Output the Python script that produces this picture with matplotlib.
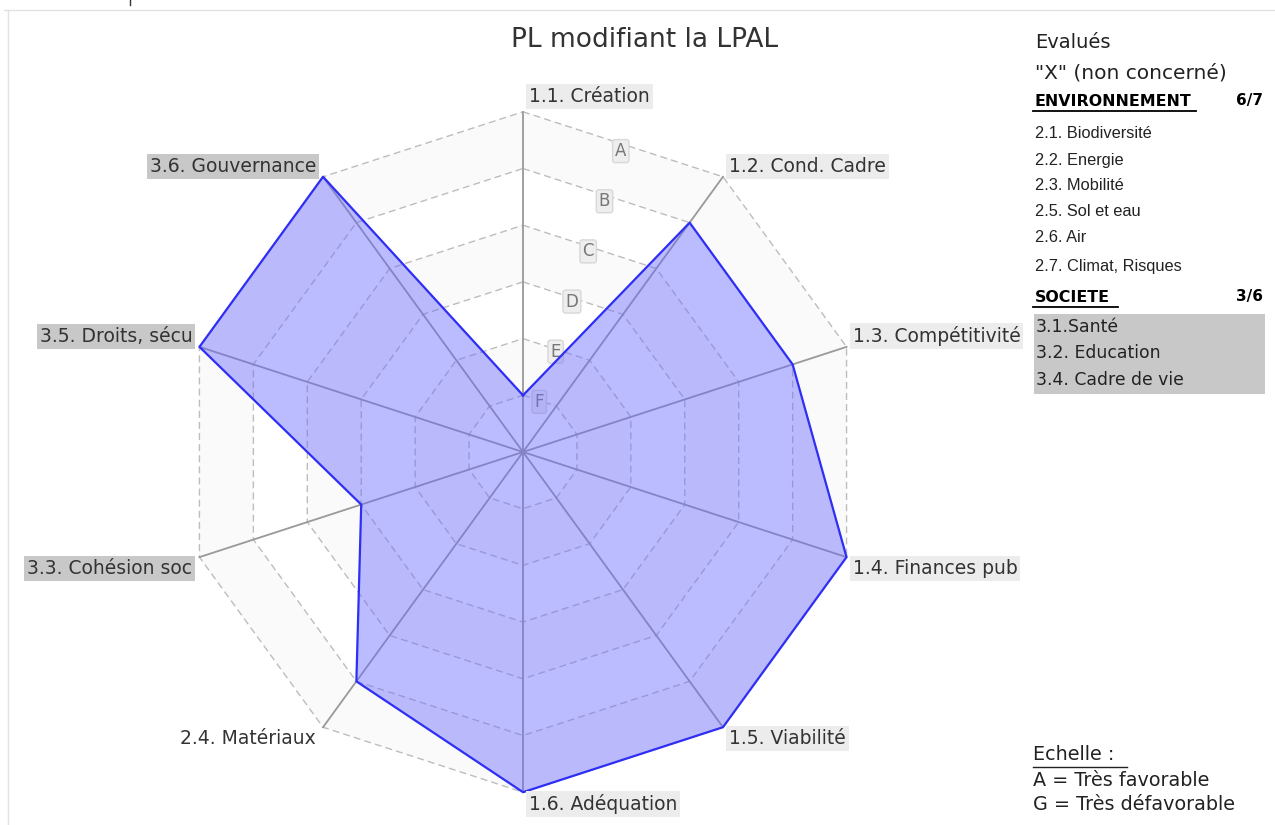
import numpy as np
import matplotlib
matplotlib.use("Agg")
import matplotlib.pyplot as plt

# data
criteria = ['1.1. Création', '1.2. Cond. Cadre', '1.3. Compétitivité', '1.4. Finances pub',
            '1.5. Viabilité', '1.6. Adéquation', '2.4. Matériaux', '3.3. Cohésion soc',
            '3.5. Droits, sécu', '3.6. Gouvernance']
grades = ['F', 'B', 'B', 'A', 'A', 'A', 'B', 'D', 'A', 'A']
groups = ['eco', 'eco', 'eco', 'eco', 'eco', 'eco', 'env', 'soc', 'soc', 'soc']
scale = ['G', 'F', 'E', 'D', 'C', 'B', 'A']   # G = centre, A = outer ring

env_items = ['2.1. Biodiversité', '2.2. Energie', '2.3. Mobilité', '2.5. Sol et eau',
             '2.6. Air', '2.7. Climat, Risques']
soc_items = ['3.1.Santé', '3.2. Education', '3.4. Cadre de vie']
env_count = '6/7'
soc_count = '3/6'

W, H = 1275, 825
fig = plt.figure(figsize=(W / 100, H / 100), dpi=100)
fig.patch.set_facecolor('white')

# overlay axes in pixel coordinates for texts / frame
ov = fig.add_axes([0, 0, 1, 1])
ov.set_xlim(0, W)
ov.set_ylim(H, 0)
ov.axis('off')

# radar axes: centre at (523, 452) px, one level = 56.7 px
cx, cy, unit = 523, 452, 56.7
half = 7 * unit
rax = fig.add_axes([(cx - half) / W, (H - cy - half) / H, 2 * half / W, 2 * half / H])
rax.set_xlim(-7, 7)
rax.set_ylim(-7, 7)
rax.axis('off')

n = len(criteria)
angles = np.pi / 2 - np.arange(n) * 2 * np.pi / n
nlev = len(scale) - 1

def ring(r):
    a = np.append(angles, angles[0])
    return r * np.cos(a), r * np.sin(a)

# alternating bands
for lev in [6, 4, 2]:
    xo, yo = ring(lev)
    xi, yi = ring(lev - 1)
    rax.fill(np.concatenate([xo, xi[::-1]]), np.concatenate([yo, yi[::-1]]),
             color='#fafafa', lw=0, zorder=1)

# rings
for lev in range(1, nlev + 1):
    xs, ys = ring(lev)
    rax.plot(xs, ys, color='#bdbdbd', lw=1, ls=(0, (5, 3)), zorder=2)

# spokes
for a in angles:
    rax.plot([0, nlev * np.cos(a)], [0, nlev * np.sin(a)], color='#999999', lw=1.3, zorder=3)

# level letters between first two spokes
mid = np.pi / 2 - np.pi / n
for lev in range(1, nlev + 1):
    r = lev * 0.93
    rax.text(r * np.cos(mid), r * np.sin(mid), scale[lev], ha='center', va='center',
             fontsize=12, color='#777777', zorder=4,
             bbox=dict(boxstyle='round,pad=0.15', fc='#eeeeee', ec='#d8d8d8', lw=1))

# data polygon
vals = np.array([scale.index(g) for g in grades], dtype=float)
xs = vals * np.cos(angles)
ys = vals * np.sin(angles)
rax.fill(np.append(xs, xs[0]), np.append(ys, ys[0]), color='#6a6aff', alpha=0.45,
         lw=0, zorder=5)
rax.plot(np.append(xs, xs[0]), np.append(ys, ys[0]), color='#2e2ef5', lw=1.6, zorder=6)

# axis labels
box_col = {'eco': '#ececec', 'env': None, 'soc': '#c8c8c8'}
for lab, a, g in zip(criteria, angles, groups):
    ex, ey = nlev * np.cos(a), nlev * np.sin(a)
    ha = 'right' if np.cos(a) < -0.1 else 'left'
    dx = -7 if ha == 'right' else 6
    if abs(np.sin(a)) > 0.99 and np.sin(a) > 0:
        dy, va = 6, 'bottom'
    elif np.sin(a) > 0:
        dy, va = 1, 'bottom'
    else:
        dy, va = -2, 'top'
    bb = None
    if box_col[g]:
        bb = dict(boxstyle='square,pad=0.16', fc=box_col[g], ec='none')
    rax.annotate(lab, (ex, ey), xytext=(dx, dy), textcoords='offset pixels', ha=ha, va=va,
                 fontsize=13.5, color='#333333', bbox=bb, zorder=7, annotation_clip=False)

# title
ov.text(645, 40, 'PL modifiant la LPAL', ha='center', va='center', fontsize=19,
        color='#333333')

# frame
ov.plot([4, W], [10, 10], color='#e2e2e2', lw=1)
ov.plot([8, 8], [10, H], color='#e2e2e2', lw=1)
ov.plot([130, 130], [0, 5], color='#333333', lw=1)

# right legend
x0 = 1035
ov.text(x0, 43, 'Evalués', fontsize=14, va='center', color='#222222')
ov.text(x0, 73, '"X" (non concerné)', fontsize=14.5, va='center', color='#222222')
ov.text(x0, 101, 'ENVIRONNEMENT', fontsize=11.4, fontweight='bold', va='center')
ov.plot([x0 - 2, 1196], [111, 111], color='black', lw=1.3)
ov.text(1263, 101, env_count, fontsize=11, fontweight='bold', va='center', ha='right')
env_y = [133, 161, 185, 212, 238, 267]
for t, y in zip(env_items, env_y):
    ov.text(x0, y, t, fontsize=11.8, family='Liberation Sans', va='center', color='#222222')
ov.text(x0, 297, 'SOCIETE', fontsize=11.4, fontweight='bold', va='center')
ov.plot([x0 - 2, 1118], [307, 307], color='black', lw=1.3)
ov.text(1263, 297, soc_count, fontsize=11, fontweight='bold', va='center', ha='right')
ov.add_patch(plt.Rectangle((1034, 314), 231, 80, fc='#c8c8c8', ec='none'))
soc_y = [327, 353, 380]
for t, y in zip(soc_items, soc_y):
    ov.text(x0 + 1, y, t, fontsize=12.4, va='center', color='#222222')

# scale note
ov.text(1033, 755, 'Echelle :', fontsize=13.8, va='center', color='#222222')
ov.plot([1033, 1127], [767, 767], color='#222222', lw=1)
ov.text(1033, 780, 'A = Très favorable', fontsize=13.8, va='center', color='#222222')
ov.text(1033, 805, 'G = Très défavorable', fontsize=13.8, va='center', color='#222222')

fig.savefig('out.png', dpi=100)
